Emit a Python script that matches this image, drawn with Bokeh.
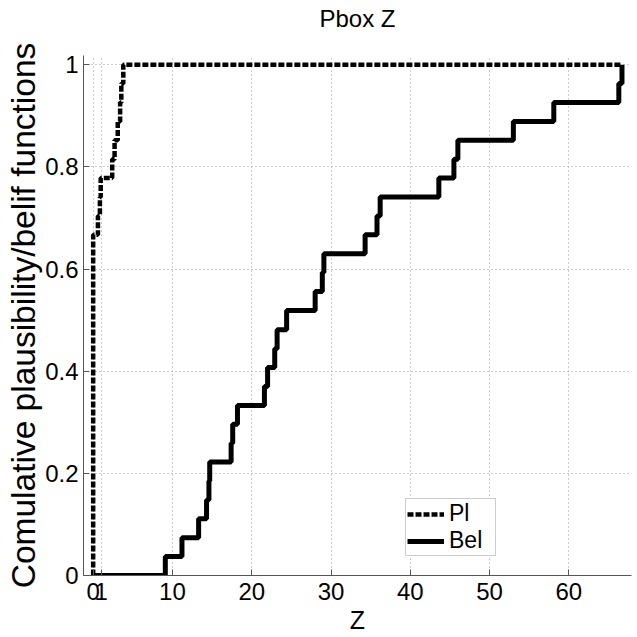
from bokeh.plotting import figure
from bokeh.models import (Range1d, FixedTicker, CustomJSTickFormatter, Legend,
                          LegendItem, LinearAxis)
from bokeh.embed import file_html
from bokeh.resources import INLINE

# ---- data ----
# Plausibility (upper CDF): step positions and levels reached
pl_z = [0.0, 0.6, 0.85, 0.95, 2.4, 2.7, 3.1, 3.4, 3.55, 3.8]
pl_p = [0.667, 0.704, 0.741, 0.778, 0.815, 0.852, 0.889, 0.926, 0.963, 1.0]
# Belief (lower CDF): step positions and levels reached
bel_z = [9.1, 11.2, 13.3, 14.3, 14.6, 14.7, 17.4, 17.6, 18.2, 21.6, 22.0, 22.9,
         23.2, 24.4, 28.0, 28.9, 29.1, 34.3, 35.8, 36.2, 43.6, 45.5, 46.0, 53.0,
         58.1, 66.3, 66.7]
bel_p = [0.037, 0.074, 0.111, 0.148, 0.185, 0.222, 0.259, 0.296, 0.333, 0.370,
         0.407, 0.444, 0.481, 0.519, 0.556, 0.593, 0.630, 0.667, 0.704, 0.741,
         0.778, 0.815, 0.852, 0.889, 0.926, 0.963, 1.0]
z_start = 0.0
z_end = 66.7
x_ticks = [0, 1, 10, 20, 30, 40, 50, 60]
y_ticks = [0, 0.2, 0.4, 0.6, 0.8, 1.0]
title_text = "Pbox Z"
x_label = "Z"
y_label = "Comulative plausibility/belif functions"


def stairs(zs, ps, start, end):
    xs, ys = [start], [0.0]
    level = 0.0
    for z, pv in zip(zs, ps):
        xs.append(z); ys.append(level)
        level = pv
        xs.append(z); ys.append(level)
    xs.append(end); ys.append(level)
    return xs, ys


FONT = "Liberation Sans"
W, H = 637, 637
BL, BR, BT, BB = 83, 6, 55, 62

p = figure(width=W, height=H, output_backend="svg", toolbar_location=None,
           x_range=Range1d(-1.22, 67.9), y_range=Range1d(0, 1.018),
           min_border_left=BL, min_border_right=BR, min_border_top=BT,
           min_border_bottom=BB)
p.outline_line_color = None
p.background_fill_color = "white"
p.border_fill_color = "white"

for ax in (p.xaxis[0], p.yaxis[0]):
    ax.axis_line_color = "#555555"
    ax.major_tick_line_color = "#555555"
    ax.major_tick_in = 6
    ax.major_tick_out = 0
    ax.minor_tick_line_color = None
    ax.major_label_text_font = FONT
    ax.major_label_text_font_size = "24px"
    ax.major_label_text_color = "black"
    ax.axis_label_text_font = FONT
    ax.axis_label_text_font_style = "normal"
    ax.axis_label_text_color = "black"

p.xaxis.ticker = FixedTicker(ticks=x_ticks)
p.xaxis.formatter = CustomJSTickFormatter(code="return String(tick);")
p.xaxis.major_label_standoff = 7
p.xaxis.axis_label = x_label
p.xaxis.axis_label_text_font_size = "25px"
p.xaxis.axis_label_standoff = 3

p.yaxis.ticker = FixedTicker(ticks=y_ticks)
p.yaxis.formatter = CustomJSTickFormatter(code="return String(Math.round(tick*10)/10);")
p.yaxis.major_label_standoff = 5
p.yaxis.axis_label = y_label
p.yaxis.axis_label_text_font_size = "33.5px"
p.yaxis.axis_label_standoff = 0

# title drawn as the label of an invisible axis above the frame
top_ax = LinearAxis(ticker=FixedTicker(ticks=[]), axis_label=title_text,
                    axis_line_color=None, major_tick_line_color=None,
                    minor_tick_line_color=None, major_label_text_font_size="0px",
                    major_tick_in=0, major_tick_out=0, major_label_standoff=0,
                    axis_label_standoff=24, axis_label_text_font=FONT,
                    axis_label_text_font_size="24px",
                    axis_label_text_font_style="normal",
                    axis_label_text_color="black")
p.add_layout(top_ax, "above")

p.xgrid.ticker = FixedTicker(ticks=x_ticks)
p.ygrid.ticker = FixedTicker(ticks=y_ticks)
for g in (p.xgrid[0], p.ygrid[0]):
    g.grid_line_color = "#9a9a9a"
    g.grid_line_dash = "1 3"
    g.grid_line_width = 1

px, py = stairs(pl_z, pl_p, z_start, z_end)
bx, by = stairs(bel_z, bel_p, z_start, z_end)

r_pl = p.line(px, py, line_color="black", line_width=4.5, line_dash="6 2")
r_bel = p.line(bx, by, line_color="black", line_width=5)

legend = Legend(items=[LegendItem(label="Pl", renderers=[r_pl]),
                       LegendItem(label="Bel", renderers=[r_bel])],
                location=(322, 19))
legend.label_text_font = FONT
legend.label_text_font_size = "23px"
legend.label_text_color = "black"
legend.glyph_width = 37
legend.glyph_height = 22
legend.label_height = 20
legend.label_standoff = 5
legend.label_width = 45
legend.padding = 1
legend.spacing = 0
legend.margin = 0
legend.border_line_color = "#9a9a9a"
legend.border_line_width = 1
legend.background_fill_alpha = 1.0
p.add_layout(legend, "center")

open("out.html", "w").write(file_html(p, INLINE))
